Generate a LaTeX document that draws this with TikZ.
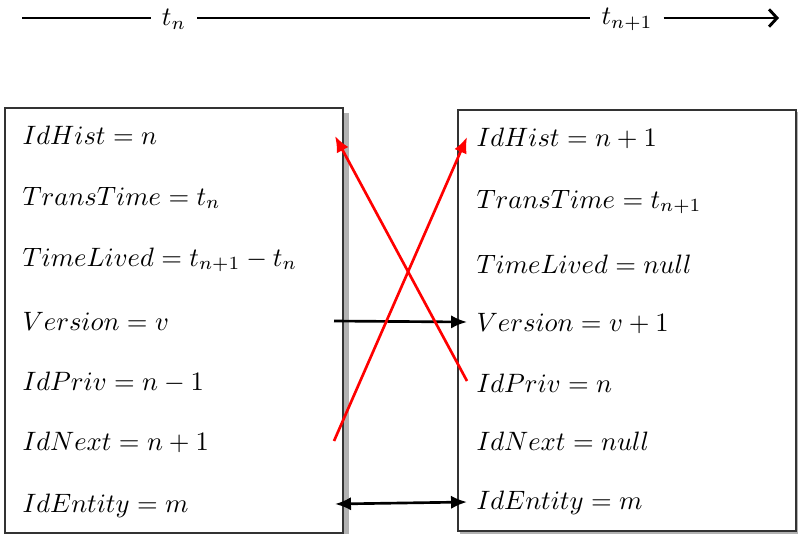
\documentclass[tikz,border=0pt]{standalone}
\usetikzlibrary{arrows.meta}
\begin{document}
\begin{tikzpicture}[x=0.376pt,y=-0.376pt,
  boxline/.style={draw=black!80,line width=0.4pt},
  shadowfill/.style={fill=black!30,draw=none},
  field/.style={anchor=base west,inner sep=0pt},
  axislbl/.style={inner sep=4pt},
  axisline/.style={line width=1.1pt},
  blackarrow/.style={line width=1pt,-{Latex[length=6pt,width=5pt]}},
  dblarrow/.style={line width=1pt,{Latex[length=6pt,width=5pt]}-{Latex[length=6pt,width=5pt]}},
  redarrow/.style={draw=red,line width=1pt,-{Latex[length=6pt,width=5pt]}}]
\useasboundingbox (0,0) rectangle (798,534);
% time axis
\coordinate (axstart) at (22,18);
\coordinate (axend) at (779,18);
\node[axislbl] (tn) at (174,19) {$t_n$};
\node[axislbl] (tn1) at (627,19) {$t_{n+1}$};
\draw[axisline] (axstart) -- (tn.west |- axstart);
\draw[axisline] (tn.east |- axstart) -- (tn1.west |- axstart);
\draw[axisline,-{Straight Barb[length=3pt,width=6.5pt]}] (tn1.east |- axstart) -- (axend);
% left box with shadow
\fill[shadowfill] (343,113) rectangle (349,534);
\draw[boxline,fill=white] (5,108) rectangle (343,533);
% right box with shadow
\fill[shadowfill] (460,112) rectangle (798,534);
\draw[boxline,fill=white] (458,110) rectangle (796,531);
% left fields
\node[field] (lh) at (22,144) {$IdHist = n$};
\node[field] (lt) at (22,205) {$TransTime = t_n$};
\node[field] (ll) at (22,266) {$TimeLived = t_{n+1} - t_n$};
\node[field] (lv) at (22,330) {$Version = v$};
\node[field] (lp) at (22,390) {$IdPriv = n-1$};
\node[field] (ln) at (22,450) {$IdNext = n+1$};
\node[field] (le) at (22,512) {$IdEntity = m$};
% right fields
\node[field] (rh) at (476,146) {$IdHist = n+1$};
\node[field] (rt) at (476,208) {$TransTime = t_{n+1}$};
\node[field] (rl) at (476,273) {$TimeLived = null$};
\node[field] (rv) at (476,331) {$Version = v+1$};
\node[field] (rp) at (476,392) {$IdPriv = n$};
\node[field] (rn) at (476,450) {$IdNext = null$};
\node[field] (re) at (476,509) {$IdEntity = m$};
% connector end points
\coordinate (lvout) at (334,321);
\coordinate (rvin) at (467,322);
\coordinate (leout) at (335,504);
\coordinate (rein) at (467,502);
\coordinate (lnout) at (334,441);
\coordinate (rhin) at (467,137);
\coordinate (rpout) at (467,381);
\coordinate (lhin) at (335,136);
% connectors
\draw[blackarrow] (lvout) -- (rvin);
\draw[dblarrow] (leout) -- (rein);
\draw[redarrow] (lnout) -- (rhin);
\draw[redarrow] (rpout) -- (lhin);
\end{tikzpicture}
\end{document}
